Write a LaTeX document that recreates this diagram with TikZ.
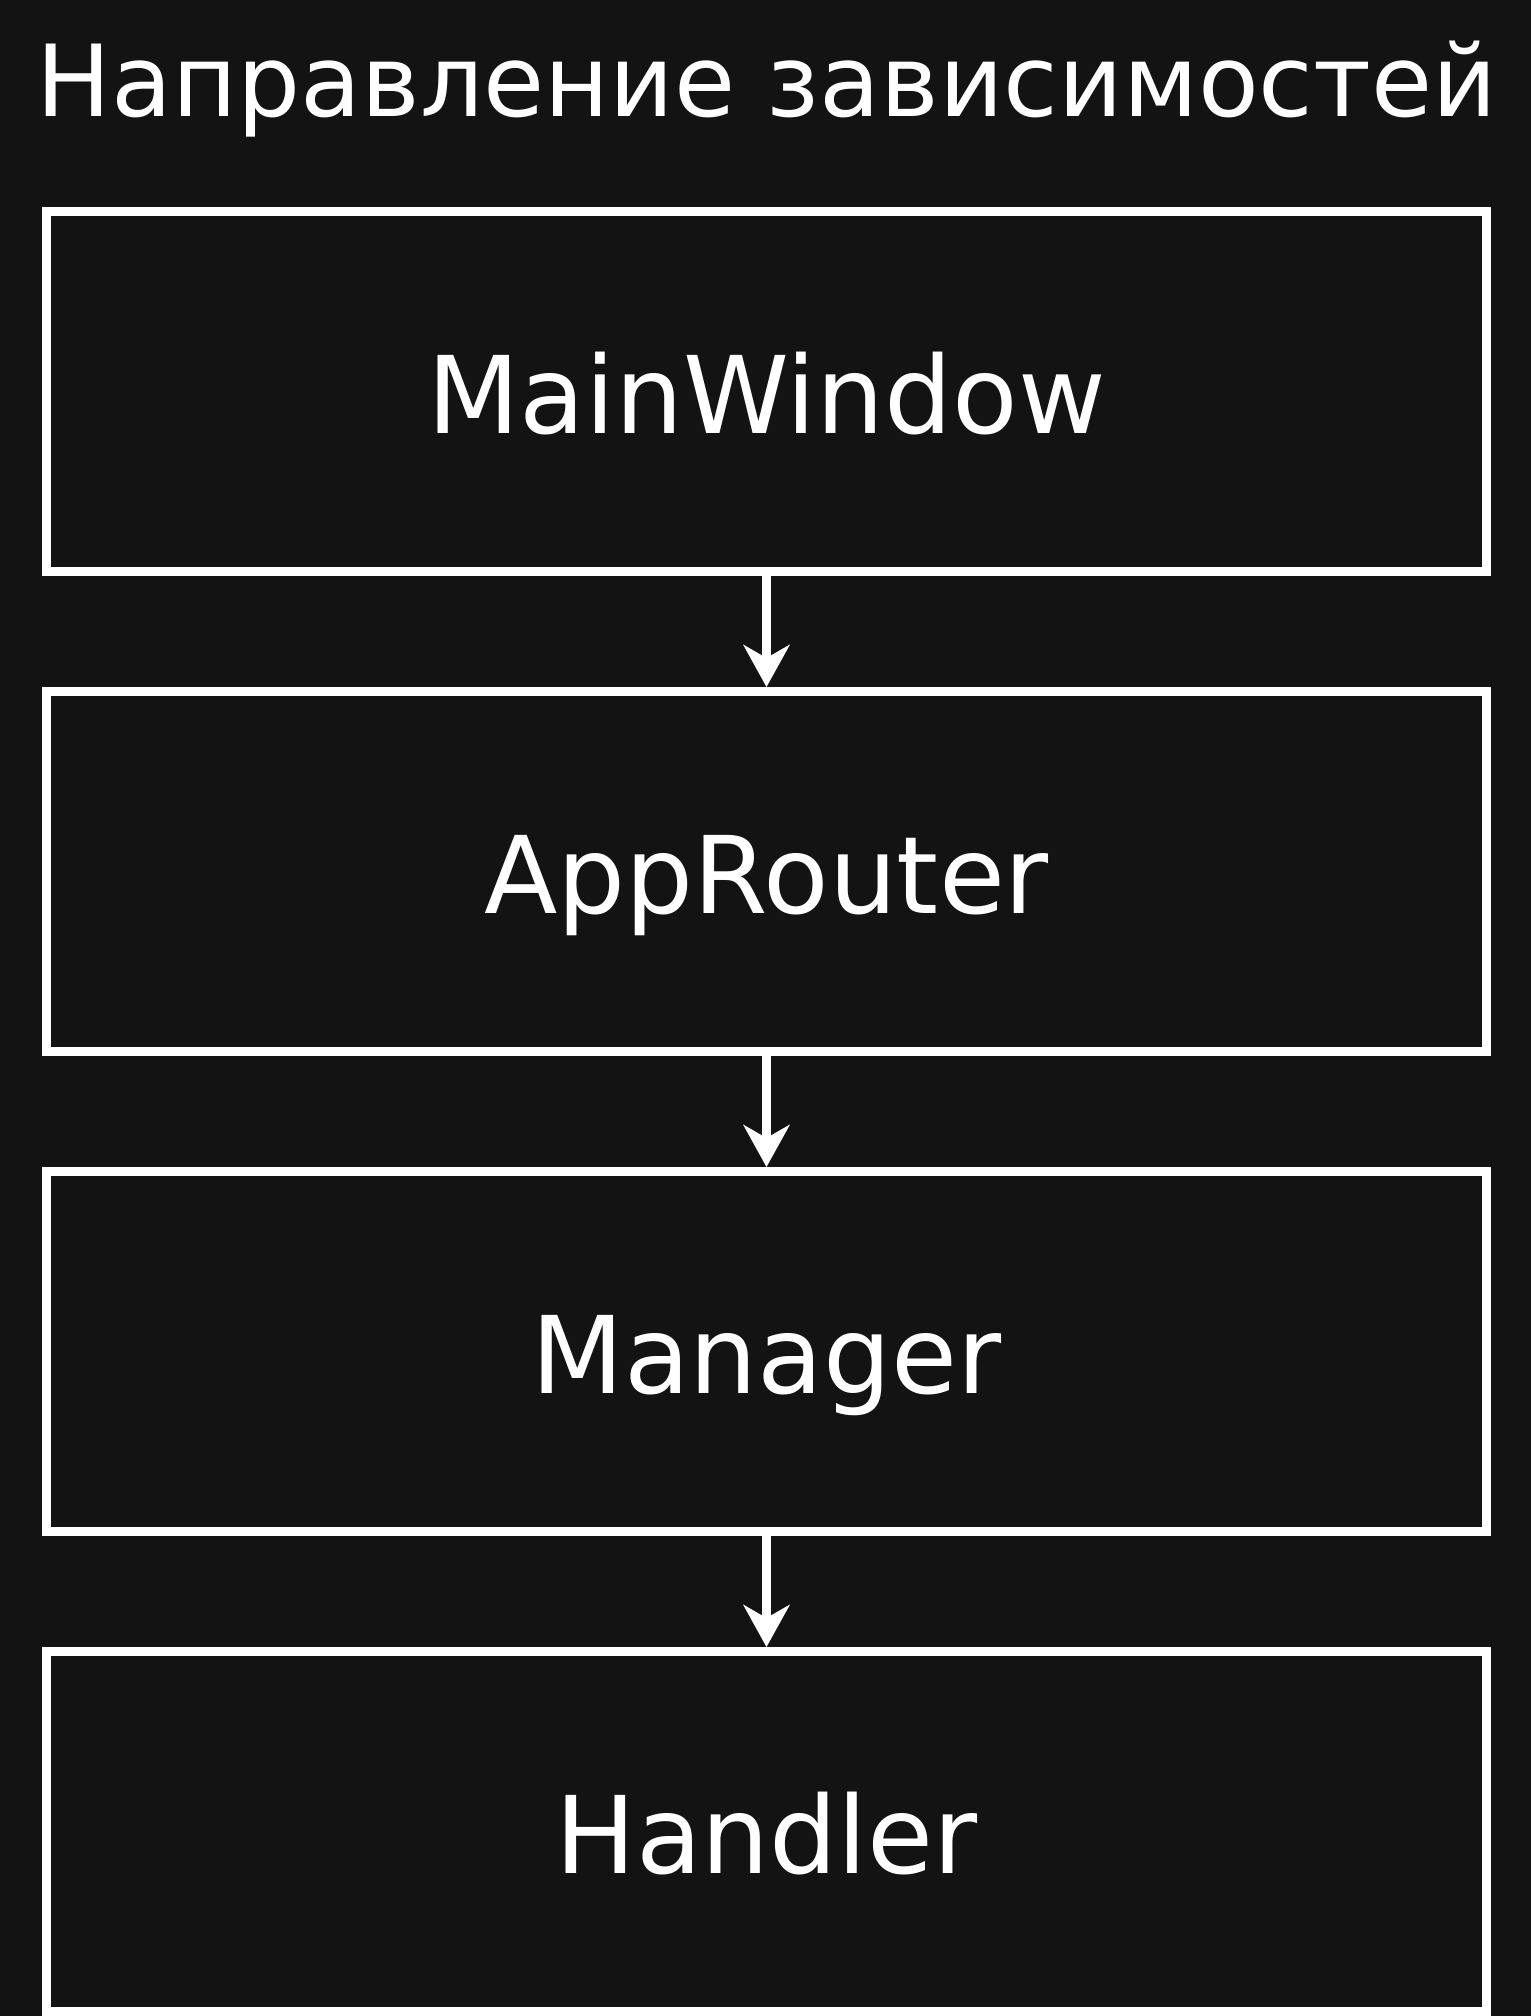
\documentclass[tikz,border=0pt]{standalone}
\usepackage{fontspec}
\setmainfont{DejaVu Sans}
\usetikzlibrary{arrows.meta}
\definecolor{bg}{HTML}{131313}

\begin{document}
\begin{tikzpicture}[x=0.5pt,y=-0.5pt,white,line width=4.5pt,
    >={Stealth[length=21pt,width=23pt,inset=6.5pt]},
    box/.style={draw,minimum width=720pt,minimum height=180pt,inner sep=0pt,
      font=\fontsize{53.6}{60}\selectfont,text height=41.8pt,text depth=0pt}]
  \useasboundingbox (0,0) rectangle (1530,2016);
  \fill[bg] (-10,-10) rectangle (1540,2026);
  \node[anchor=base,font=\fontsize{49.7}{56}\selectfont] (title) at (767,116.7) {Направление зависимостей};
  \node[box] (win)     at (766.5,391.5)  {MainWindow};
  \node[box] (router)  at (766.5,871.5)  {AppRouter};
  \node[box] (manager) at (766.5,1351.5) {Manager};
  \node[box] (handler) at (766.5,1831.5) {Handler};
  \draw[->] (win) -- (router);
  \draw[->] (router) -- (manager);
  \draw[->] (manager) -- (handler);
\end{tikzpicture}
\end{document}
